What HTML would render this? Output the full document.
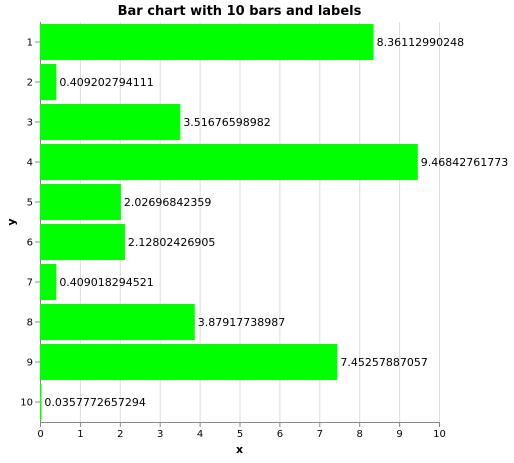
<!DOCTYPE html>
<html><head><meta charset="utf-8"><style>
body{margin:0;background:#fff;font-family:"DejaVu Sans","Liberation Sans",sans-serif}
svg text{font-family:"DejaVu Sans","Liberation Sans",sans-serif}
</style></head><body>
<svg id="chart" width="514" height="459" xmlns="http://www.w3.org/2000/svg">
<rect width="514" height="459" fill="#fff"/>
<text x="239.5" y="15" text-anchor="middle" font-size="13" font-weight="bold">Bar chart with 10 bars and labels</text>
<g id="grid"></g><g id="axes"></g><g id="bars"></g>
<text x="239.5" y="453" text-anchor="middle" font-size="11" font-weight="bold">x</text>
<text transform="translate(15,222) rotate(-90)" text-anchor="middle" font-size="11" font-weight="bold">y</text>
</svg>
<script>
const categories=["1","2","3","4","5","6","7","8","9","10"];
const values=[8.36112990248,0.409202794111,3.51676598982,9.46842761773,2.02696842359,2.12802426905,0.409018294521,3.87917738987,7.45257887057,0.0357772657294];
const labels=["8.36112990248","0.409202794111","3.51676598982","9.46842761773","2.02696842359","2.12802426905","0.409018294521","3.87917738987","7.45257887057","0.0357772657294"];
const xTicks=[0,1,2,3,4,5,6,7,8,9,10];
const NS="http://www.w3.org/2000/svg";
const L=40,R=439,T=22,B=422;
const xs=v=>L+(v/10)*(R-L);
const band=(B-T)/categories.length;
const ys=i=>T+i*band;
function mk(tag,attrs,parent){const e=document.createElementNS(NS,tag);for(const k in attrs)e.setAttribute(k,attrs[k]);parent.appendChild(e);return e;}
const grid=document.getElementById('grid'),bars=document.getElementById('bars'),axes=document.getElementById('axes');
xTicks.forEach(t=>{
  const g=mk('line',{x1:xs(t)+.5,x2:xs(t)+.5,y1:T,y2:B,stroke:'#ddd'},grid);
  
  
  const tk=mk('line',{x1:xs(t)+.5,x2:xs(t)+.5,y1:B,y2:B+5,stroke:'#888'},axes);
  
  
  const tx=mk('text',{x:xs(t)+.5,y:B+15,'text-anchor':'middle','font-size':10},axes);
  tx.textContent=t;
  
  
});
categories.forEach((c,i)=>{
  const y=ys(i);
  const b=mk('rect',{x:L,y:y+band*0.05,width:xs(values[i])-L,height:band*0.9,fill:'#00ff00'},bars);
  
  
  const lb=mk('text',{x:xs(values[i])+3,y:y+band/2+4,'font-size':11},bars);
  lb.textContent=labels[i];
  
  
  const tk=mk('line',{x1:L-5,x2:L,y1:y+band/2,y2:y+band/2,stroke:'#888'},axes);
  
  
  const tx=mk('text',{x:L-7,y:y+band/2+3.5,'text-anchor':'end','font-size':10},axes);
  tx.textContent=c;
  
  
});
const xa=mk('line',{x1:L,x2:R+1,y1:B+.5,y2:B+.5,stroke:'#888'},axes);


const ya=mk('line',{x1:L+.5,x2:L+.5,y1:T,y2:B,stroke:'#888'},axes);


</script>
</body></html>
